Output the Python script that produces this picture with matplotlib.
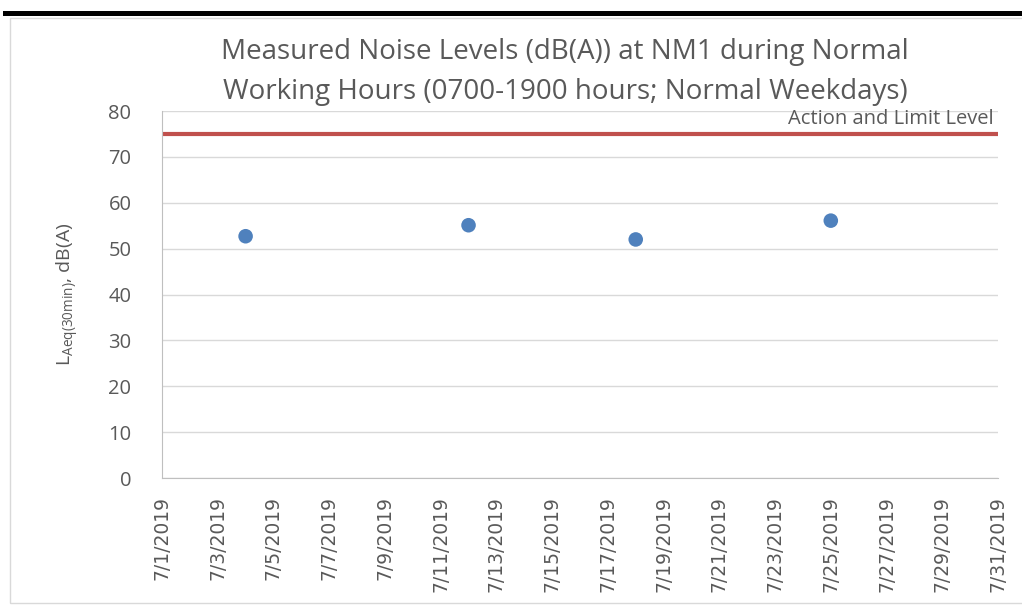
import matplotlib.pyplot as plt
import matplotlib.dates as mdates
from matplotlib.patches import Rectangle
import datetime as dt

dates = [dt.date(2019, 7, 4), dt.date(2019, 7, 12), dt.date(2019, 7, 18), dt.date(2019, 7, 25)]
levels = [52.7, 55.1, 52.0, 56.1]
limit = 75
limit_label = "Action and Limit Level"
title = "Measured Noise Levels (dB(A)) at NM1 during Normal\nWorking Hours (0700-1900 hours; Normal Weekdays)"

grey = "#595959"
fig = plt.figure(figsize=(10.22, 6.06), dpi=100)
W, H = 1022, 606

# outer frame: thick black rule at top, thin grey chart border
fig.add_artist(Rectangle((3 / W, 1 - 16 / H), 1 - 3 / W, 5 / H, transform=fig.transFigure,
                         color="black", lw=0))
fig.add_artist(Rectangle((10 / W, 1 - 603 / H), 1.0, (603 - 18) / H, transform=fig.transFigure,
                         fill=False, edgecolor="#d9d9d9", lw=1))

ax = fig.add_axes([162 / W, 1 - 478 / H, (998 - 162) / W, (478 - 111) / H])

ax.axhline(limit, color="#c0504d", lw=3, zorder=2)
ax.scatter(dates, levels, s=110, color="#4f81bd", zorder=3, edgecolors="none")
ax.text(0.995, limit + 1.0, limit_label, transform=ax.get_yaxis_transform(),
        ha="right", va="bottom", fontsize=14.5, color=grey, family="Open Sans")

ax.set_xlim(dt.date(2019, 7, 1), dt.date(2019, 7, 31))
ax.set_ylim(0, 80)
ax.set_yticks(range(0, 81, 10))
ax.xaxis.set_major_locator(mdates.DayLocator(interval=2))
ax.xaxis.set_major_formatter(mdates.DateFormatter("%-m/%-d/%Y"))
ax.grid(axis="y", color="#d9d9d9", lw=1)
ax.set_axisbelow(True)
for s in ["top", "right"]:
    ax.spines[s].set_visible(False)
for s in ["left", "bottom"]:
    ax.spines[s].set_color("#bfbfbf")
ax.tick_params(length=0, colors=grey)
ax.tick_params(axis="y", labelsize=14.5, pad=22)
ax.tick_params(axis="x", labelsize=13.5, rotation=90, pad=13)
for lab in ax.get_yticklabels():
    lab.set_family("Open Sans")
for lab in ax.get_xticklabels():
    lab.set_family("DejaVu Sans")

ax.set_ylabel(r"L$_{\mathregular{Aeq(30min)}}$, dB(A)", fontsize=14, color=grey,
              family="Open Sans", labelpad=20)
fig.text(0.553, 1 - 72 / H, title, ha="center", va="center", fontsize=20,
         color=grey, family="Open Sans", linespacing=1.55)

fig.savefig("out.png", dpi=100)
